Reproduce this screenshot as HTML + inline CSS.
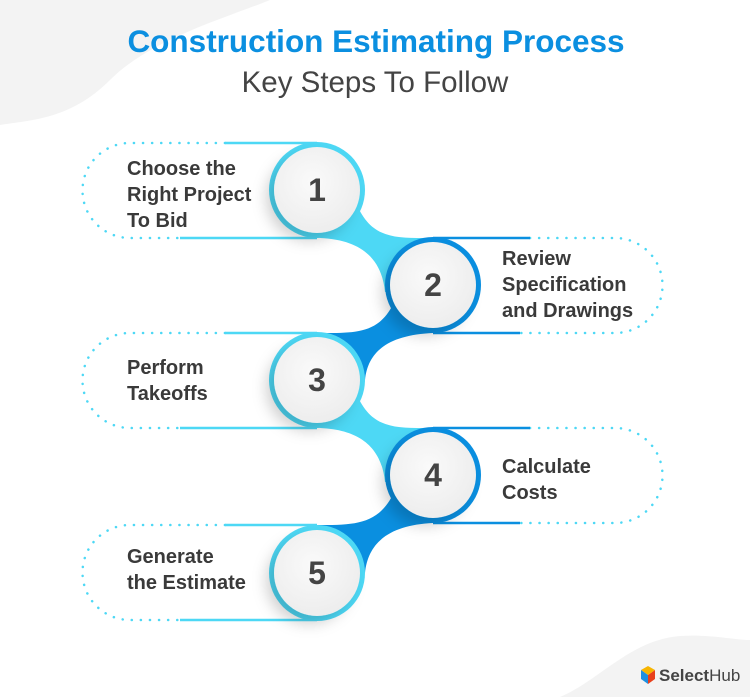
<!DOCTYPE html>
<html><head><meta charset="utf-8"><style>
html,body{margin:0;padding:0;background:#fff}
svg{display:block;font-family:"Liberation Sans",sans-serif}
</style></head><body>
<svg width="750" height="697" viewBox="0 0 750 697">
<defs>
<radialGradient id="cg" cx="45%" cy="40%" r="65%"><stop offset="0" stop-color="#fafafa"/><stop offset="1" stop-color="#ececec"/></radialGradient>
<filter id="sh" x="-50%" y="-50%" width="200%" height="200%"><feDropShadow dx="-8" dy="8" stdDeviation="7" flood-color="#000" flood-opacity="0.18"/></filter>
</defs>
<path d="M0,0 H270 C220,20 150,40 110,80 C70,120 30,120 0,125 Z" fill="#f3f3f3"/>
<path d="M750,640 V697 H560 C600,680 630,640 680,636 C710,634 735,640 750,640 Z" fill="#f3f3f3"/>
<text x="376" y="52" text-anchor="middle" font-size="31.5" font-weight="bold" fill="#0b8fe0">Construction Estimating Process</text>
<text x="375" y="92" text-anchor="middle" font-size="29.5" fill="#444">Key Steps To Follow</text>

<g fill="none" stroke-width="2.5" stroke-dasharray="0.1 9" stroke-linecap="round">
<path d="M225,143 H130 A47.5,47.5 0 0 0 130,238 H180" stroke="#4dd8f5"/>
<path d="M530,238 H615 A47.5,47.5 0 0 1 615,333 H520" stroke="#4dd8f5"/>
<path d="M225,333 H130 A47.5,47.5 0 0 0 130,428 H180" stroke="#4dd8f5"/>
<path d="M530,428 H615 A47.5,47.5 0 0 1 615,523 H520" stroke="#4dd8f5"/>
<path d="M225,525 H130 A47.5,47.5 0 0 0 130,620 H180" stroke="#4dd8f5"/>
</g>
<g fill="none" stroke-width="2.5">
<path d="M225,143 H317 M180,238 H317" stroke="#4dd8f5"/>
<path d="M433,238 H530 M433,333 H520" stroke="#0a8fe0"/>
<path d="M225,333 H317 M180,428 H317" stroke="#4dd8f5"/>
<path d="M433,428 H530 M433,523 H520" stroke="#0a8fe0"/>
<path d="M225,525 H317 M180,620 H317" stroke="#4dd8f5"/>
</g>
<g>
<path d="M355,200 C370,240 395,238 433,238 L433,290 L385,292 C382,262 365,240 320,238 Z" fill="#4dd8f5"/>
<path d="M395,300 C380,335 355,333 317,333 L317,380 L365,380 C368,350 390,335 433,333 Z" fill="#0a8fe0"/>
<path d="M355,390 C370,430 395,428 433,428 L433,480 L385,482 C382,452 365,430 320,428 Z" fill="#4dd8f5"/>
<path d="M395,490 C380,525 355,525 317,525 L317,573 L365,573 C368,542 390,525 433,523 Z" fill="#0a8fe0"/>
</g>
<g>
<circle cx="317" cy="190" r="48" fill="#4dd8f5"/><circle cx="317" cy="190" r="43" fill="url(#cg)" filter="url(#sh)"/>
<circle cx="433" cy="285" r="48" fill="#0a8fe0"/><circle cx="433" cy="285" r="43" fill="url(#cg)" filter="url(#sh)"/>
<circle cx="317" cy="380" r="48" fill="#4dd8f5"/><circle cx="317" cy="380" r="43" fill="url(#cg)" filter="url(#sh)"/>
<circle cx="433" cy="475" r="48" fill="#0a8fe0"/><circle cx="433" cy="475" r="43" fill="url(#cg)" filter="url(#sh)"/>
<circle cx="317" cy="573" r="48" fill="#4dd8f5"/><circle cx="317" cy="573" r="43" fill="url(#cg)" filter="url(#sh)"/>
</g>
<g font-size="32" font-weight="bold" fill="#444" text-anchor="middle">
<text x="317" y="201">1</text><text x="433" y="296">2</text><text x="317" y="391">3</text><text x="433" y="486">4</text><text x="317" y="584">5</text>
</g>
<g font-size="20" font-weight="bold" fill="#3a3a3a">
<text x="127" y="175">Choose the</text><text x="127" y="201">Right Project</text><text x="127" y="227">To Bid</text>
<text x="502" y="265">Review</text><text x="502" y="291">Specification</text><text x="502" y="317">and Drawings</text>
<text x="127" y="374">Perform</text><text x="127" y="400">Takeoffs</text>
<text x="502" y="473">Calculate</text><text x="502" y="499">Costs</text>
<text x="127" y="563">Generate</text><text x="127" y="589">the Estimate</text>
</g>
<g>
<polygon points="648,675 655,670 655,679 648,684" fill="#e8401c"/>
<polygon points="641,670 648,666 655,670 648,675" fill="#f7b500"/>
<polygon points="641,670 648,675 648,684 641,679" fill="#1e8fe0"/>
<text x="659" y="681" font-size="17" font-weight="bold" fill="#444">Select<tspan font-weight="normal">Hub</tspan></text>
</g>
</svg>
</body></html>
